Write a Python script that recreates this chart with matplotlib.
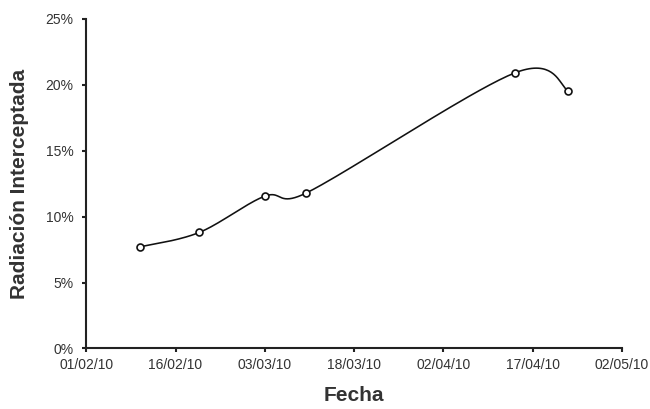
import matplotlib
matplotlib.use('Agg')
import matplotlib.pyplot as plt
import matplotlib.dates as mdates
from matplotlib.ticker import FuncFormatter
import numpy
from datetime import datetime, timedelta

# data
fechas = ['10/02/10', '20/02/10', '03/03/10', '10/03/10', '14/04/10', '23/04/10']
radiacion = [7.7, 8.8, 11.55, 11.8, 20.9, 19.55]

plt.rcParams['font.family'] = ['Liberation Sans', 'DejaVu Sans']
textColor = '#333333'

def smoothCurve(x, y, sx, sy, n=40, k=0.8):
#excel-like smoothed line: bezier with catmull-rom arms, arms clamped to k*segment length
	P = numpy.column_stack((numpy.array(x) * sx, numpy.array(y) * sy))
	tang = numpy.zeros_like(P)
	tang[1:-1] = (P[2:] - P[:-2]) / 6.0
	tang[0] = (P[1] - P[0]) / 6.0	# short arms at the ends
	tang[-1] = (P[-1] - P[-2]) / 6.0
	out = []
	t = numpy.linspace(0, 1, n)[:, None]
	for i in range(len(P) - 1):
		seg = numpy.linalg.norm(P[i+1] - P[i])
		a1 = tang[i]
		a2 = tang[i+1]
		if numpy.linalg.norm(a1) > k*seg:
			a1 = a1 * k*seg / numpy.linalg.norm(a1)
		if numpy.linalg.norm(a2) > k*seg:
			a2 = a2 * k*seg / numpy.linalg.norm(a2)
		b0, b1, b2, b3 = P[i], P[i] + a1, P[i+1] - a2, P[i+1]
		c = (1-t)**3*b0 + 3*(1-t)**2*t*b1 + 3*(1-t)*t**2*b2 + t**3*b3
		out.append(c)
	out = numpy.vstack(out)
	return out[:, 0] / sx, out[:, 1] / sy

dates = [datetime.strptime(f, '%d/%m/%y') for f in fechas]
xnum = mdates.date2num(dates)
start = datetime(2010, 2, 1)
end = datetime(2010, 5, 2)

fig = plt.figure(figsize=(6.5, 4.09), dpi=100)
ax = fig.add_axes([0.1326, 0.148, 0.8244, 0.806])

# pixel scales: ~5.95 px per day, 13.2 px per percent
cx, cy = smoothCurve(xnum, radiacion, 5.95, 13.2)
ax.plot(cx, cy, color='#111111', lw=1.15, zorder=2)
ax.plot(xnum, radiacion, 'o', ms=5, mfc='white', mec='#111111', mew=1.2, zorder=3)

ax.set_xlim(mdates.date2num(start), mdates.date2num(end))
ax.set_ylim(0, 25)
ticks = [start + timedelta(days=15*i) for i in range(7)]
ax.set_xticks(mdates.date2num(ticks))
ax.xaxis.set_major_formatter(mdates.DateFormatter('%d/%m/%y'))
ax.set_yticks(range(0, 26, 5))
ax.yaxis.set_major_formatter(FuncFormatter(lambda v, p: '%d%%' % v))

for s in ['top', 'right']:
	ax.spines[s].set_visible(False)
for s in ['left', 'bottom']:
	ax.spines[s].set_linewidth(1.5)
	ax.spines[s].set_color('#222222')
ax.tick_params(direction='out', length=3, width=1.5, color='#222222', labelsize=10, labelcolor=textColor)
ax.tick_params(axis='x', pad=4)
ax.tick_params(axis='y', pad=6)

ax.set_xlabel('Fecha', fontsize=15, fontweight='bold', color=textColor, labelpad=10)
ax.set_ylabel('Radiación Interceptada', fontsize=15, fontweight='bold', color=textColor, labelpad=12)

fig.savefig('out.png', dpi=100)
